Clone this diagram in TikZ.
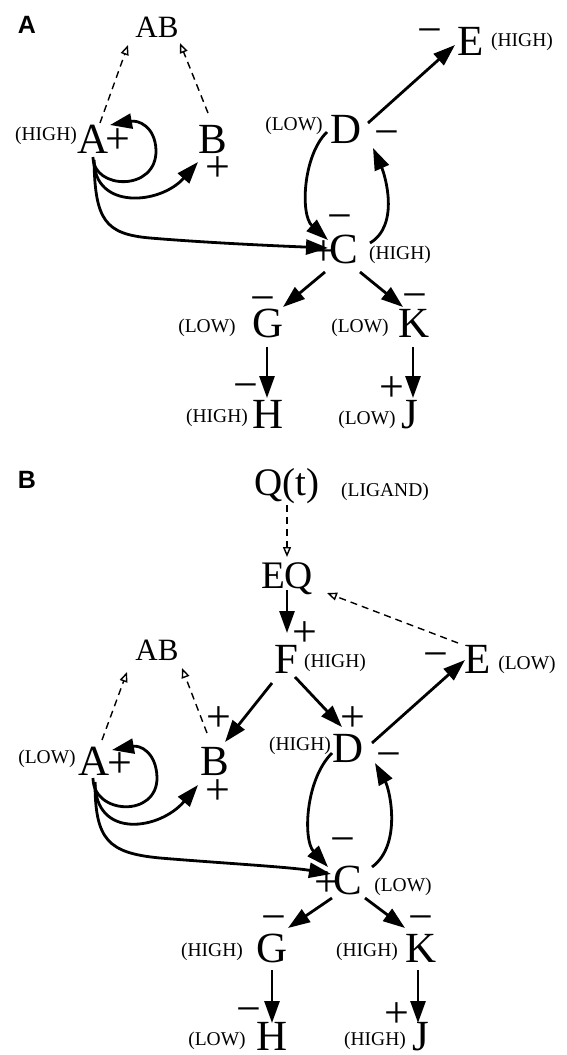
\documentclass[tikz,border=0pt]{standalone}
\usepackage{fontspec}
\setmainfont{Liberation Serif}
\setsansfont{Liberation Sans}
\usetikzlibrary{arrows.meta,calc}
\tikzset{
  letter/.style={inner sep=0pt, anchor=base, font=\fontsize{43}{43}\selectfont},
  mid/.style={inner sep=0pt, anchor=base, font=\fontsize{39}{39}\selectfont},
  pair/.style={inner sep=0pt, anchor=base, font=\fontsize{31}{31}\selectfont},
  lvl/.style={inner sep=0pt, anchor=base, font=\fontsize{19.5}{19.5}\selectfont},
  sgn/.style={inner sep=0pt, anchor=base, yshift=-11pt, font=\fontsize{44}{44}\selectfont},
  panel/.style={inner sep=0pt, anchor=base, font=\fontsize{25}{25}\selectfont\sffamily\bfseries},
  arr/.style={line width=2.8pt, -{Triangle[length=22pt,width=15pt]}},
  dsh/.style={line width=1.4pt, dash pattern=on 7pt off 5pt, -{Triangle[open,length=10pt,width=8pt]}},
}
\begin{document}
\begin{tikzpicture}[x=1pt,y=-1pt]
\useasboundingbox (0,0) rectangle (567,1055);
% ---------------- Panel A ----------------
\node[panel] (pA) at (27,33) {A};
\node[pair] (AB) at (157,37) {AB};
\node[letter] (A) at (93,153) {A};
\node[letter] (B) at (213,153) {B};
\node[letter] (D) at (346,143) {D};
\node[letter] (E) at (471,55) {E};
\node[letter] (C) at (344,263) {C};
\node[letter] (G) at (268,337) {G};
\node[letter] (K) at (414,337) {K};
\node[letter] (H) at (268,428) {H};
\node[letter] (J) at (410,428) {J};
\node[lvl] (lA) at (46,140) {(HIGH)};
\node[lvl] (lD) at (294,130) {(LOW)};
\node[lvl] (lE) at (522,46) {(HIGH)};
\node[lvl] (lC) at (400,259) {(HIGH)};
\node[lvl] (lG) at (207,332) {(LOW)};
\node[lvl] (lK) at (360,332) {(LOW)};
\node[lvl] (lH) at (217,422) {(HIGH)};
\node[lvl] (lJ) at (367,424) {(LOW)};
\node[sgn] (sA) at (118,142) {+};
\node[sgn] (sB) at (218,170) {+};
\node[sgn] (sD) at (387,135) {−};
\node[sgn] (sE) at (430,33) {−};
\node[sgn] (sC1) at (340,219) {−};
\node[sgn] (sC2) at (324,254) {+};
\node[sgn] (sG) at (263,301) {−};
\node[sgn] (sK) at (415,298) {−};
\node[sgn] (sH) at (246,388) {−};
\node[sgn] (sJ) at (392,390) {+};
% connectors A
\draw[dsh] ($(A.base)+(7,-30)$) -- ($(AB.base)+(-29,8)$);
\draw[dsh] ($(B.base)+(-5,-40)$) -- ($(AB.base)+(23,6)$);
\draw[arr] ($(A.base)+(0,4)$) .. controls (93,190) and (157,192) .. ($(A.base)+(63,-3)$)
  .. controls (155,126) and (138,120) .. ($(A.base)+(17,-28)$);
\draw[arr] ($(A.base)+(1,7)$) .. controls (94,210) and (160,205) .. ($(B.base)+(-15,9)$);
\draw[arr] ($(A.base)+(1,7)$) .. controls (95,220) and (105,234) .. ($(A.base)+(57,85)$)
  .. controls (210,243) and (280,246) .. ($(C.base)+(-16,-15)$);
\draw[arr] ($(D.base)+(-19,-11)$) .. controls (303,155) and (300,215) .. ($(C.base)+(-16,-23)$);
\draw[arr] ($(C.base)+(26,-20)$) .. controls (400,225) and (385,175) .. ($(D.base)+(27,5)$);
\draw[arr] ($(D.base)+(22,-20)$) -- ($(E.base)+(-16,-10)$);
\draw[arr] ($(C.base)+(-19,9)$) -- ($(G.base)+(15,-30)$);
\draw[arr] ($(C.base)+(16,9)$) -- ($(K.base)+(-11,-30)$);
\draw[arr] ($(G.base)+(-1,10)$) -- ($(H.base)+(-1,-30)$);
\draw[arr] ($(K.base)+(-1,10)$) -- ($(J.base)+(3,-30)$);
% ---------------- Panel B ----------------
\node[panel] (pB) at (27,488) {B};
\node[mid] (Q) at (287,495) {Q(t)};
\node[lvl] (lQ) at (385,496) {(LIGAND)};
\node[mid] (EQ) at (287,588) {EQ};
\node[letter] (F2) at (286,673) {F};
\node[lvl] (lF2) at (335,667) {(HIGH)};
\node[sgn] (sF2) at (305,635) {+};
\node[letter] (E2) at (478,673) {E};
\node[lvl] (lE2) at (527,669) {(LOW)};
\node[sgn] (sE2) at (436,657) {−};
\node[pair] (AB2) at (157,660) {AB};
\node[letter] (A2) at (94,775) {A};
\node[lvl] (lA2) at (47,763) {(LOW)};
\node[sgn] (sA2) at (120,766) {+};
\node[letter] (B2) at (215,775) {B};
\node[sgn] (sB2a) at (219,720) {+};
\node[sgn] (sB2b) at (218,793) {+};
\node[letter] (D2) at (348,762) {D};
\node[lvl] (lD2) at (300,750) {(HIGH)};
\node[sgn] (sD2a) at (353,720) {+};
\node[sgn] (sD2b) at (389,757) {−};
\node[letter] (C2) at (348,894) {C};
\node[lvl] (lC2) at (403,891) {(LOW)};
\node[sgn] (sC2a) at (343,842) {−};
\node[sgn] (sC2b) at (327,885) {+};
\node[letter] (G2) at (272,962) {G};
\node[lvl] (lG2) at (212,956) {(HIGH)};
\node[sgn] (sG2) at (274,920) {−};
\node[letter] (K2) at (421,962) {K};
\node[lvl] (lK2) at (367,956) {(HIGH)};
\node[sgn] (sK2) at (421,920) {−};
\node[letter] (H2) at (272,1050) {H};
\node[lvl] (lH2) at (217,1045) {(LOW)};
\node[sgn] (sH2) at (249,1012) {−};
\node[letter] (J2) at (421,1050) {J};
\node[lvl] (lJ2) at (375,1045) {(HIGH)};
\node[sgn] (sJ2) at (397,1016) {+};
% connectors B
\draw[dsh] ($(Q.base)+(0,10)$) -- ($(EQ.base)+(0,-31)$);
\draw[dsh] ($(E2.base)+(-20,-30)$) -- ($(EQ.base)+(40,5)$);
\draw[dsh] ($(A2.base)+(8,-35)$) -- ($(AB2.base)+(-30,12)$);
\draw[dsh] ($(B2.base)+(-8,-42)$) -- ($(AB2.base)+(25,8)$);
\draw[arr] ($(EQ.base)+(0,2)$) -- ($(F2.base)+(1,-40)$);
\draw[arr] ($(F2.base)+(-14,10)$) -- ($(B2.base)+(10,-33)$);
\draw[arr] ($(F2.base)+(9,4)$) -- ($(D2.base)+(-6,-35)$);
\draw[arr] ($(D2.base)+(24,-19)$) -- ($(E2.base)+(-13,-13)$);
\draw[arr] ($(A2.base)+(-1,3)$) .. controls (93,815) and (158,818) .. ($(A2.base)+(63,2)$)
  .. controls (156,752) and (140,745) .. ($(A2.base)+(18,-25)$);
\draw[arr] ($(A2.base)+(1,7)$) .. controls (95,840) and (160,830) .. ($(B2.base)+(-17,10)$);
\draw[arr] ($(A2.base)+(1,7)$) .. controls (95,840) and (108,853) .. ($(A2.base)+(66,83)$)
  .. controls (220,863) and (290,867) .. ($(C2.base)+(-17,-20)$);
\draw[arr] ($(D2.base)+(-16,-9)$) .. controls (305,780) and (303,840) .. ($(C2.base)+(-20,-27)$);
\draw[arr] ($(C2.base)+(24,-27)$) .. controls (402,845) and (390,790) .. ($(D2.base)+(27,1)$);
\draw[arr] ($(C2.base)+(-16,4)$) -- ($(G2.base)+(16,-34)$);
\draw[arr] ($(C2.base)+(17,4)$) -- ($(K2.base)+(-16,-34)$);
\draw[arr] ($(G2.base)+(0,8)$) -- ($(H2.base)+(0,-27)$);
\draw[arr] ($(K2.base)+(-3,8)$) -- ($(J2.base)+(-3,-27)$);
\end{tikzpicture}
\end{document}
